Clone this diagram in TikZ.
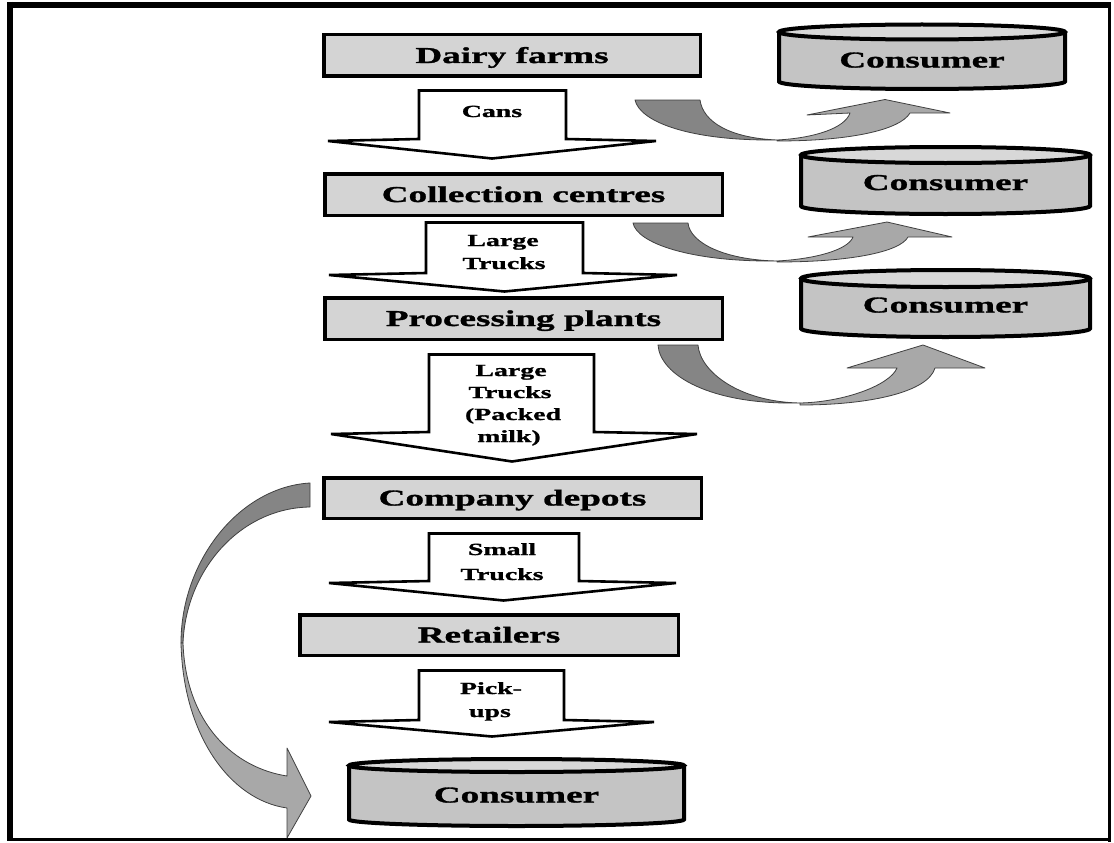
\documentclass[tikz,border=0pt]{standalone}
\usepackage{fontspec}
\setmainfont{Liberation Serif}[FakeStretch=1.64, BoldFeatures={FakeBold=1.3}]
\definecolor{boxgray}{HTML}{D4D4D4}
\definecolor{drumbody}{HTML}{C4C4C4}
\definecolor{drumtop}{HTML}{D8D8D8}
\definecolor{bentdark}{HTML}{858585}
\definecolor{bentlight}{HTML}{A8A8A8}
\newcommand\stagefont{\fontsize{22.7}{27}\selectfont\bfseries}
\newcommand\carrierfont{\fontsize{17}{23}\selectfont\bfseries}
% drum: cx, rx, top centre y, bottom centre y, ry, name, text centre y
\newcommand\drum[7]{%
  \fill[drumbody] (#1-#2,#3) -- (#1-#2,#4)
    arc[start angle=180,end angle=360,x radius=#2pt,y radius=#5pt] -- (#1+#2,#3) -- cycle;
  \draw[drumline] (#1-#2,#3) -- (#1-#2,#4)
    arc[start angle=180,end angle=360,x radius=#2pt,y radius=#5pt] -- (#1+#2,#3);
  \filldraw[drumline,fill=drumtop] (#1,#3) ellipse[x radius=#2pt,y radius=#5pt];
  \node[drumtext] (#6) at (#1,#7) {Consumer};
}
\begin{document}
\begin{tikzpicture}[x=1pt,y=-1pt,
  stage/.style={draw=black, line width=3.5pt, fill=boxgray, inner sep=0pt,
    font=\stagefont, text height=15pt, text depth=0pt},
  blockarrow/.style={draw=black, line width=2.6pt, fill=white, line join=miter},
  carrier/.style={font=\carrierfont, inner sep=0pt, anchor=base},
  drumline/.style={draw=black, line width=4pt},
  drumtext/.style={font=\stagefont, inner sep=0pt, text height=15pt, text depth=0pt},
  bentA/.style={fill=bentdark, draw=black!75, line width=0.8pt, line join=round},
  bentB/.style={fill=bentlight, draw=black!75, line width=0.8pt, line join=round}]
\useasboundingbox (0,0) rectangle (1114,843);
\fill[white] (0,0) rectangle (1114,843);

% outer frame
\draw[line width=6pt] (10,2) -- (10,841);
\draw[line width=5.5pt] (7,4.8) -- (1111,4.8);
\draw[line width=3pt] (1109,2) -- (1109,842);
\draw[line width=3pt] (7,839.5) -- (1110.5,839.5);

% supply chain stages
\node[stage, minimum width=376.5pt, minimum height=41.5pt] (dairy) at (512,55.5) {Dairy farms};
\node[stage, minimum width=397.5pt, minimum height=41.5pt] (collect) at (523.5,194.5) {Collection centres};
\node[stage, minimum width=397.5pt, minimum height=41.5pt] (process) at (523.5,318.5) {Processing plants};
\node[stage, minimum width=377.5pt, minimum height=40.5pt] (depot) at (512.5,498) {Company depots};
\node[stage, minimum width=378.5pt, minimum height=40.5pt] (retail) at (489,635) {Retailers};

% transport block arrows
\draw[blockarrow] (419,90.5) -- (566,90.5) -- (566,139) -- (656,141) -- (492,158.5) -- (328,141) -- (419,139) -- cycle;
\draw[blockarrow] (426,222.5) -- (583,222.5) -- (583,273) -- (677,275) -- (504.5,291.5) -- (329,275) -- (426,273) -- cycle;
\draw[blockarrow] (429,354.5) -- (594,354.5) -- (594,432) -- (697,434) -- (512,461.5) -- (331,434) -- (429,432) -- cycle;
\draw[blockarrow] (429,533.5) -- (579,533.5) -- (579,581) -- (676,583) -- (503.5,600.5) -- (329,583) -- (429,581) -- cycle;
\draw[blockarrow] (419,670.5) -- (564,670.5) -- (564,720) -- (654,722) -- (492,736.5) -- (329,722) -- (419,720) -- cycle;

% carrier labels
\node[carrier] (cans) at (492,117) {Cans};
\node[carrier] (lt1a) at (503,246) {Large};
\node[carrier] (lt1b) at (504,269) {Trucks};
\node[carrier] (lt2a) at (511,376) {Large};
\node[carrier] (lt2b) at (510,398) {Trucks};
\node[carrier] (lt2c) at (513,420) {(Packed};
\node[carrier] (lt2d) at (509,442) {milk)};
\node[carrier] (st1) at (502,555) {Small};
\node[carrier] (st2) at (502,580) {Trucks};
\node[carrier] (pu1) at (491,694) {Pick-};
\node[carrier] (pu2) at (490,717) {ups};

% consumers
\drum{922}{143}{32}{81.5}{7.5}{cons1}{60}
\drum{945.5}{144.5}{155}{206}{8}{cons2}{182.5}
\drum{945.5}{144.5}{278.5}{328.5}{8.5}{cons3}{305}
\drum{516.5}{167.5}{765.5}{819.5}{6.5}{cons4}{795}

% bent arrows to the consumers
\draw[bentA] (635,100) -- (700,100) .. controls (703,122) and (730,138) .. (777,140)
  .. controls (690,141) and (640,122) .. (635,100) -- cycle;
\draw[bentB] (777,140) .. controls (815,138) and (845,128) .. (850,113) -- (807,115) -- (885,99.5)
  -- (950,113) -- (910,113) .. controls (900,130) and (850,141) .. (777,141) -- cycle;

\draw[bentA] (633,223) -- (688,223) .. controls (690,243) and (725,260) .. (777,261)
  .. controls (690,262) and (637,243) .. (633,223) -- cycle;
\draw[bentB] (777,261) .. controls (815,259) and (848,250) .. (853,237) -- (808,237) -- (887,222)
  -- (952,237) -- (908,237) .. controls (900,252) and (850,262) .. (777,262) -- cycle;

\draw[bentA] (658,345) -- (698,345) .. controls (700,372) and (740,402) .. (800,403)
  .. controls (710,405) and (660,375) .. (658,345) -- cycle;
\draw[bentB] (800,403) .. controls (845,402) and (890,385) .. (897,368) -- (847,368) -- (923,345)
  -- (985,368) -- (935,368) .. controls (928,392) and (870,405) .. (800,405) -- cycle;

% depots straight to the consumer
\draw[bentA] (310,483) -- (310,507) .. controls (240,508) and (186,570) .. (183,643)
  -- (181,643) .. controls (181,560) and (240,487) .. (310,483) -- cycle;
\draw[bentB] (181,643) .. controls (183,735) and (230,800) .. (287,808) -- (287,838) -- (311,796)
  -- (287,748) -- (287,776) .. controls (235,768) and (186,725) .. (183,643) -- cycle;
\end{tikzpicture}
\end{document}
